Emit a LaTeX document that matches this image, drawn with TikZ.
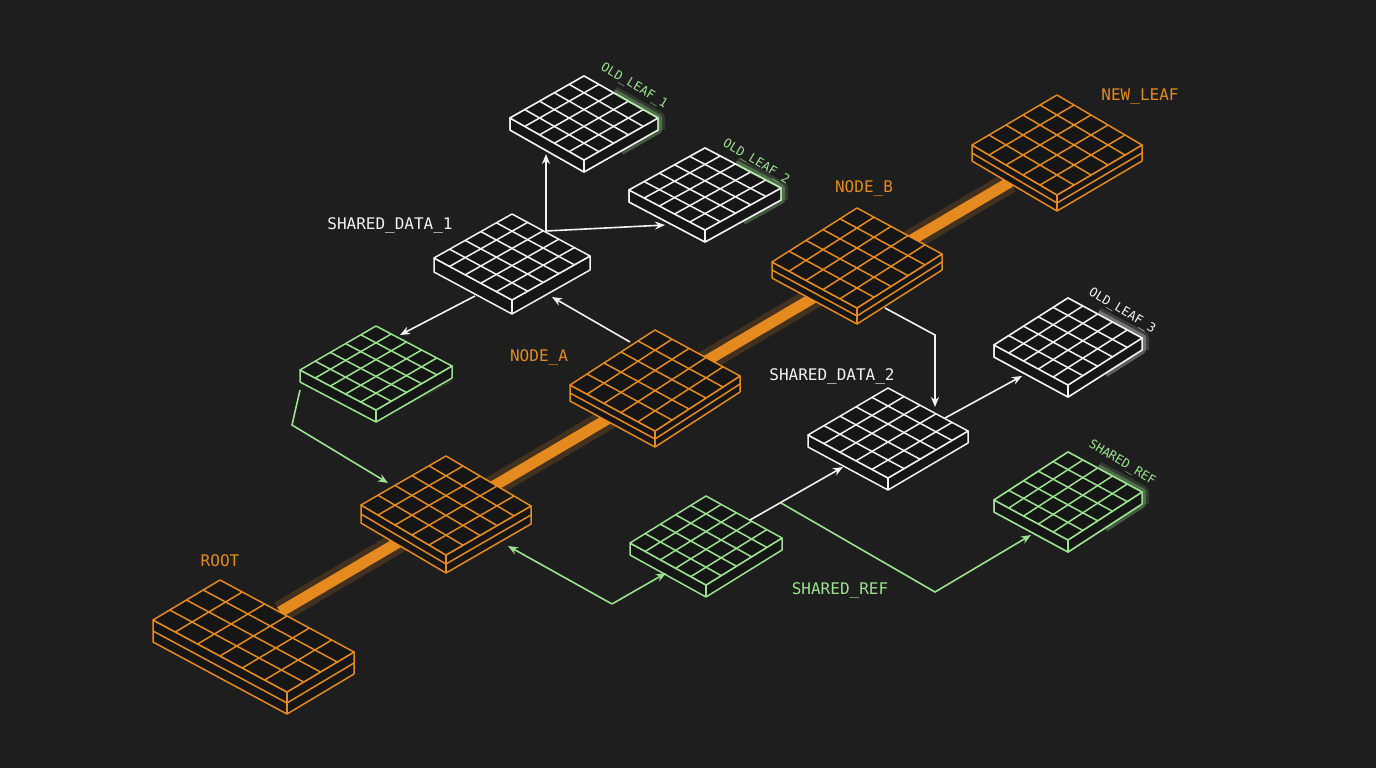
\documentclass[tikz,border=0pt]{standalone}
\usepackage{fontspec}
\setmonofont{DejaVu Sans Mono}
\usetikzlibrary{calc,arrows.meta}
\definecolor{bg}{HTML}{1E1E1E}
\definecolor{og}{HTML}{E58A1E}
\definecolor{gr}{HTML}{9BE28F}
\definecolor{wh}{HTML}{F2F2F2}
\definecolor{face}{HTML}{161616}
\tikzset{
  warr/.style={draw=wh,line width=1.6pt,-{Stealth[length=10pt,width=8pt]}},
  garr/.style={draw=gr,line width=1.6pt,-{Stealth[length=10pt,width=8pt]}},
  lbl/.style={font=\ttfamily\fontsize{16}{16}\selectfont},
  rlbl/.style={font=\ttfamily\fontsize{12.5}{12.5}\selectfont,rotate=-31,inner sep=0pt},
}
% name, L, u, v, h, n, m, color, layers
\newcommand\mytile[9]{%
  \coordinate (#1-L) at #2;
  \coordinate (#1-T) at ($(#1-L)+#3$);
  \coordinate (#1-B) at ($(#1-L)+#4$);
  \coordinate (#1-R) at ($(#1-T)+#4$);
  \coordinate (#1-C) at ($(#1-L)!0.5!(#1-R)$);
  \begin{scope}[draw=#8,line width=1.5pt,line join=round]
  \filldraw[fill=face] (#1-L) -- (#1-B) -- (#1-R) -- ($(#1-R)+(0,#5)$) -- ($(#1-B)+(0,#5)$) -- ($(#1-L)+(0,#5)$) -- cycle;
  \draw (#1-B) -- ($(#1-B)+(0,#5)$);
  \ifnum#9=2
   \draw ($(#1-L)+(0,#5/2)$) -- ($(#1-B)+(0,#5/2)$) -- ($(#1-R)+(0,#5/2)$);
  \fi
  \filldraw[fill=face] (#1-L) -- (#1-T) -- (#1-R) -- (#1-B) -- cycle;
  \pgfmathtruncatemacro\nn{#6-1}\pgfmathtruncatemacro\mm{#7-1}
  \foreach \i in {1,...,\nn}{\draw ($(#1-L)!\i/#6!(#1-T)$) -- ($(#1-B)!\i/#6!(#1-R)$);}
  \foreach \i in {1,...,\mm}{\draw ($(#1-L)!\i/#7!(#1-B)$) -- ($(#1-T)!\i/#7!(#1-R)$);}
  \end{scope}}
\newcommand\myglow[3]{% name, h, color
  \draw[#3,opacity=0.3,line width=8pt,line join=round] ($(#1-T)!0.4!(#1-R)$) -- (#1-R) -- ($(#1-R)+(0,#2)$) -- ($(#1-B)!0.5!(#1-R)+(0,#2)$);
  \draw[#3,opacity=0.15,line width=14pt,line join=round] ($(#1-T)!0.4!(#1-R)$) -- (#1-R) -- ($(#1-R)+(0,#2)$);}
\begin{document}
\begin{tikzpicture}[x=1pt,y=-1pt]
\fill[bg] (0,0) rectangle (1376,768);
\useasboundingbox (0,0) rectangle (1376,768);
% spine
\coordinate (s1) at (280,612);
\coordinate (s2) at (1010,182);
\draw[og,opacity=0.18,line width=22pt] (s1) -- (s2);
\draw[og,line width=11pt] (s1) -- (s2);
% glows
\mytile{OLa}{(510,118)}{(74,-42)}{(74,42)}{12}{5}{5}{wh}{1}
\mytile{OLb}{(629,190)}{(76,-42)}{(76,40)}{12}{5}{5}{wh}{1}
\mytile{OLc}{(994,345)}{(74,-47)}{(74,40)}{12}{5}{5}{wh}{1}
\myglow{OLa}{12}{gr}\myglow{OLb}{12}{gr}\myglow{OLc}{12}{wh}
\mytile{OLa}{(510,118)}{(74,-42)}{(74,42)}{12}{5}{5}{wh}{1}
\mytile{OLb}{(629,190)}{(76,-42)}{(76,40)}{12}{5}{5}{wh}{1}
\mytile{OLc}{(994,345)}{(74,-47)}{(74,40)}{12}{5}{5}{wh}{1}
\draw[gr,line width=1.5pt,opacity=0.7] ($(OLa-T)!0.45!(OLa-R)$) -- (OLa-R) -- ($(OLa-R)+(0,12)$);
\draw[gr,line width=1.5pt,opacity=0.7] ($(OLb-T)!0.45!(OLb-R)$) -- (OLb-R) -- ($(OLb-R)+(0,12)$);
\mytile{SDa}{(434,258)}{(78,-44)}{(78,42)}{14}{5}{5}{wh}{1}
\mytile{SDb}{(808,435)}{(80,-47)}{(80,43)}{12}{5}{5}{wh}{1}
\fill[gr,opacity=0.12] (300,370) -- (376,326) -- (452,370) -- (452,382) -- (376,422) -- (300,382) -- cycle;
\mytile{Ga}{(300,370)}{(76,-44)}{(76,40)}{12}{5}{5}{gr}{1}
\mytile{Gb}{(630,543)}{(76,-47)}{(76,42)}{12}{5}{5}{gr}{1}
\mytile{SR}{(994,500)}{(74,-48)}{(74,40)}{12}{5}{5}{gr}{1}
\myglow{SR}{12}{gr}
\mytile{SR}{(994,500)}{(74,-48)}{(74,40)}{12}{5}{5}{gr}{1}
\mytile{NA}{(570,385)}{(85,-55)}{(85,46)}{16}{5}{5}{og}{2}
\mytile{M}{(361,505)}{(85,-49)}{(85,50)}{18}{5}{5}{og}{2}
\mytile{RT}{(153,620)}{(67,-40)}{(134,72)}{22}{4}{6}{og}{2}
\mytile{NB}{(772,262)}{(85,-54)}{(85,46)}{16}{5}{5}{og}{2}
\mytile{NL}{(972,145)}{(85,-50)}{(85,50)}{16}{5}{5}{og}{2}
% arrows
\coordinate (a0) at (546,231);
\draw[warr] (a0) -- (546,154);
\draw[warr] (a0) -- (665,225);
\draw[warr] (630,342) -- (552,297);
\draw[warr] (475,296) -- (400,335);
\draw[warr] (885,308) -- (935,335) -- (935,407);
\draw[warr] (945,418) -- (1022,376);
\draw[warr] (750,520) -- (843,467);
\draw[garr] (300,390) -- (292,425) -- (388,483);
\draw[garr] (612,604) -- (508,546);
\draw[garr] (612,604) -- (666,573);
\draw[garr] (781,503) -- (935,592) -- (1031,535);
% labels
\node[lbl,text=og] at (220,561) {ROOT};
\node[lbl,text=og] at (539,357) {NODE\_A};
\node[lbl,text=og] at (864,188) {NODE\_B};
\node[lbl,text=og] at (1140,97) {NEW\_LEAF};
\node[lbl,text=wh] at (390,225) {SHARED\_DATA\_1};
\node[lbl,text=wh] at (832,376) {SHARED\_DATA\_2};
\node[lbl,text=gr] at (840,590) {SHARED\_REF};
\node[rlbl,text=gr] at (634,86) {OLD\_LEAF\_1};
\node[rlbl,text=gr] at (756,162) {OLD\_LEAF\_2};
\node[rlbl,text=wh] at (1122,311) {OLD\_LEAF\_3};
\node[rlbl,text=gr] at (1122,463) {SHARED\_REF};
\end{tikzpicture}
\end{document}
